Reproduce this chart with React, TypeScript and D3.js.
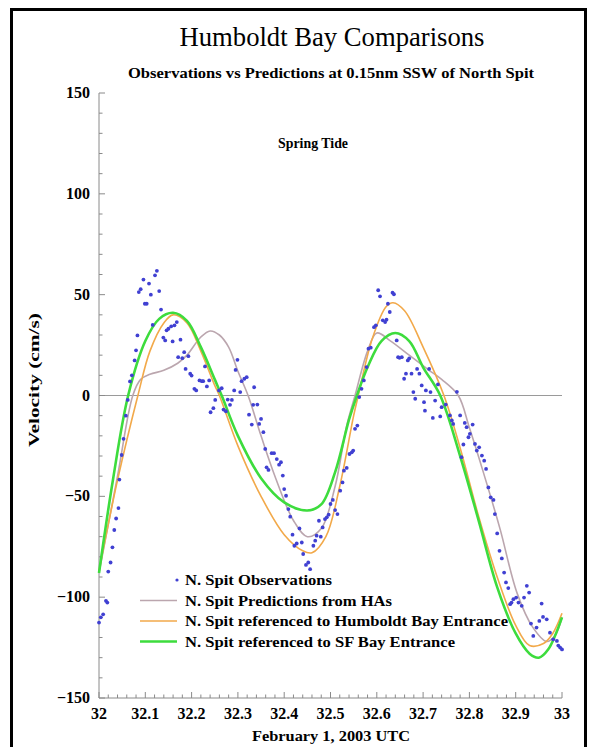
import React from "react";
import * as d3 from "d3";

const titleText = "Humboldt Bay Comparisons";
const subtitleText = "Observations vs Predictions at 0.15nm SSW of North Spit";
const annotationText = "Spring Tide";
const xLabelText = "February 1, 2003 UTC";
const yLabelText = "Velocity (cm/s)";

const xTicks = [32, 32.1, 32.2, 32.3, 32.4, 32.5, 32.6, 32.7, 32.8, 32.9, 33];
const xTickLabels = ["32", "32.1", "32.2", "32.3", "32.4", "32.5", "32.6", "32.7", "32.8", "32.9", "33"];
const yTicks = [-150, -100, -50, 0, 50, 100, 150];
const yTickLabels = ["\u2212150", "\u2212100", "\u221250", "0", "50", "100", "150"];

const legendLabels = [
  "N. Spit Observations",
  "N. Spit Predictions from HAs",
  "N. Spit referenced to Humboldt Bay Entrance",
  "N. Spit referenced to SF Bay Entrance",
];

// Observations
const obsT = [
  32.000, 32.004, 32.009, 32.015, 32.018,
  32.020, 32.025, 32.029, 32.033, 32.037, 32.042, 32.044, 32.049, 32.053, 32.058,
  32.062, 32.067, 32.071, 32.077, 32.080, 32.083, 32.086, 32.090, 32.096, 32.099,
  32.103, 32.108, 32.112, 32.116, 32.121, 32.125, 32.130, 32.134, 32.139, 32.143,
  32.146, 32.150, 32.156, 32.159, 32.163, 32.168, 32.171, 32.176, 32.180, 32.184,
  32.187, 32.193, 32.197, 32.200, 32.206, 32.210, 32.217, 32.222, 32.225, 32.229,
  32.233, 32.238, 32.241, 32.247, 32.251, 32.259, 32.265, 32.269, 32.274, 32.278,
  32.283, 32.287, 32.292, 32.295, 32.299, 32.305, 32.308, 32.314, 32.319, 32.324,
  32.330, 32.333, 32.335,
  32.342, 32.346, 32.350, 32.355, 32.359, 32.362, 32.366, 32.373, 32.378, 32.384,
  32.389, 32.393, 32.397, 32.400, 32.404, 32.409, 32.413, 32.418, 32.422, 32.427,
  32.433, 32.438, 32.441, 32.447, 32.452, 32.456, 32.463, 32.467, 32.470, 32.475,
  32.479, 32.483, 32.488, 32.492, 32.496, 32.500, 32.505, 32.510, 32.515, 32.521,
  32.526, 32.529, 32.535, 32.541, 32.546, 32.549, 32.553, 32.558, 32.562, 32.567,
  32.572, 32.578, 32.582, 32.587, 32.594, 32.598, 32.603, 32.607, 32.613, 32.618,
  32.621, 32.624, 32.628, 32.634, 32.637, 32.643, 32.646, 32.649,
  32.654, 32.659, 32.663, 32.667, 32.670, 32.675, 32.679, 32.683, 32.687, 32.692,
  32.697, 32.702, 32.704, 32.706, 32.713, 32.716, 32.721, 32.726, 32.732, 32.737,
  32.740, 32.749, 32.758, 32.762, 32.765, 32.773, 32.780, 32.783, 32.787, 32.790,
  32.794, 32.798, 32.801, 32.807, 32.812, 32.816, 32.821, 32.827, 32.832, 32.836,
  32.841, 32.846, 32.852, 32.855, 32.860, 32.865, 32.870, 32.875, 32.879, 32.884,
  32.888, 32.891, 32.895, 32.901, 32.906, 32.913, 32.918, 32.924, 32.929, 32.933,
  32.938, 32.945, 32.951, 32.956, 32.959, 32.967, 32.974, 32.981, 32.989, 32.992,
  32.996, 33.000,
];
const obsV = [
  -112.6, -110, -108.5, -101.8, -102.7,
  -87.3, -82.8, -75.3, -66.7, -61, -55.8, -41.7, -29.5, -21.5, -10,
  -2.2, 7, 10, 17.4, 22.4, 29.8, 51.3, 52.7, 57.5, 45.5,
  45.5, 55.5, 50, 35, 59.6, 61.8, 51.8, 42.6, 28.7, 27.3,
  32.3, 33.1, 34.3, 26.8, 34.8, 36.4, 19, 27.7, 18.5, 21.5,
  13.2, 19.5, 10.8, 9.9, 3.3, 2.5, 7.5, 7.1, 7.1, 14.4,
  4.5, 7.5, -8.3, -6.3, -2.2, 2.5, 3.6, -7, -7.8, -2,
  -4.6, -2.2, 2.5, 12.7, 17.7, 1.7, 7.1, 8.3, 9.1, -9.5,
  -14.4, -4.6, 4.1,
  -4.5, -14.1, -11.6, -18.2, -26.5, -35.6, -36.9, -28.6, -28.6, -31.5,
  -34.3, -33.1, -39.7, -46.4, -49.7, -56.3, -60.1, -69, -74.5, -73.4,
  -65.9, -72.9, -78.6, -84, -82.8, -86.1, -74.5, -72, -69.5, -62.1,
  -70, -65.4, -61.3, -60.4, -59.1, -53.8, -51.8, -56.8, -58.8, -47.2,
  -43.1, -37.3, -35.9, -29, -28.2, -27.3, -16.5, -14.9, -0.8, 3.3,
  7.5, 14.1, 23.2, 23.7, 33.9, 34.8, 52.2, 49.2, 37.3, 36.4,
  37.6, 45.5, 41.4, 51, 50.2, 27.3, 19, 18.7,
  19, 8.3, 10.8, 17.4, 18.4, 10.8, 1.7, -1.6, 13.2, 10.8,
  5, -3.3, -7.5, 2.5, 13.2, 1.7, -11.1, -2.5, 5.5, -10.4,
  -5.8, -4.5, -9.9, -12.4, -14.1, 1.8, -9.9, -30.6, -24.3, -13.6,
  -15.7, -20.7, -19, -14.4, -24, -27.3, -25.7, -29.8, -32.3, -36.4,
  -45.6, -50.5, -51.8, -58.8, -68.4, -77, -80.8, -87.8, -92.7, -95.5,
  -103.5, -102.7, -101, -100.2, -102.7, -104.3, -100.2, -94.4, -97.7, -113.1,
  -119.2, -115.1, -111.8, -103.2, -109.8, -111, -117.6, -120.9, -121.7, -124,
  -125, -125.9,
];

// Predictions from harmonic analysis
const haT = [32.0, 32.04, 32.073, 32.09, 32.11, 32.14, 32.17, 32.19, 32.22, 32.24, 32.26, 32.28, 32.30, 32.322, 32.35, 32.38, 32.42, 32.45, 32.48, 32.51, 32.535, 32.553, 32.58, 32.60, 32.63, 32.67, 32.71, 32.74, 32.776, 32.80, 32.83, 32.866, 32.903, 32.937, 32.967, 32.985, 33.0];
const haV = [-88, -40, 0, 8, 10.5, 12.5, 16, 20, 29, 32, 30, 24, 12, 0, -20, -40, -62, -70, -66, -45, -15, 0, 22, 31, 27, 20, 13, 8, 0, -16, -38, -66, -98, -115, -122, -119, -110];

// Referenced to Humboldt Bay Entrance
const hbT = [32.0, 32.04, 32.084, 32.11, 32.14, 32.16, 32.19, 32.22, 32.25, 32.26, 32.30, 32.35, 32.40, 32.44, 32.46, 32.49, 32.52, 32.55, 32.56, 32.59, 32.62, 32.635, 32.66, 32.70, 32.745, 32.78, 32.82, 32.86, 32.90, 32.93, 32.96, 32.98, 33.0];
const hbV = [-87, -42, 0, 22, 36, 40, 36, 22, 5, 0, -25, -50, -69, -77, -78, -70, -45, -10, 0, 28, 44, 46, 42, 24, 0, -26, -60, -90, -114, -124, -123, -118, -108];

// Referenced to SF Bay Entrance
const sfT = [32.0, 32.03, 32.063, 32.10, 32.13, 32.16, 32.19, 32.22, 32.25, 32.265, 32.30, 32.35, 32.40, 32.45, 32.48, 32.51, 32.54, 32.557, 32.58, 32.61, 32.64, 32.67, 32.70, 32.737, 32.78, 32.82, 32.86, 32.90, 32.93, 32.95, 32.97, 33.0];
const sfV = [-88, -42, 0, 27, 38, 41, 37, 24, 8, 0, -20, -41, -53, -57, -54, -38, -12, 0, 14, 27, 31, 27, 14, 0, -30, -62, -95, -118, -128, -130, -126, -110];

const W = 589;
const H = 747;
const FONT = "'Liberation Serif', 'DejaVu Serif', serif";

const x = d3.scaleLinear().domain([32, 33]).range([99, 562]);
const y = d3.scaleLinear().domain([-150, 150]).range([698, 93]);

const line = d3
  .line<[number, number]>()
  .x((d) => x(d[0]))
  .y((d) => y(d[1]))
  .curve(d3.curveCatmullRom.alpha(0.5));

function zip(t: number[], v: number[]): [number, number][] {
  return t.map((tt, i) => [tt, v[i]]);
}

const GRAY = "#bba6ae";
const ORANGE = "#f2a94a";
const GREEN = "#3ddc3d";
const BLUE = "#4040d2";
const AXIS = "#8a8a8a";

export default function App() {
  const xMinor = d3.range(0, 51).map((i) => 32 + i * 0.02);
  const yMinor = d3.range(-150, 151, 10);
  const legendX = 185;
  const legendRows = [585, 605.5, 626, 646.5];
  const legendColors = [BLUE, GRAY, ORANGE, GREEN];
  const legendWidths = [0, 1.6, 1.6, 2.6];
  const legendLens = [147, 207, 323, 270];

  return (
    <svg
      width={W}
      height={H}
      style={{ position: "absolute", left: 0, top: 0, background: "#fff" }}
      fontFamily={FONT}
    >
      <rect x={0} y={0} width={W} height={H} fill="#fff" />
      {/* frame */}
      <rect x={11.5} y={9.5} width={574} height={800} fill="none" stroke="#000" strokeWidth={3} />

      {/* titles */}
      <text x={332} y={46} textAnchor="middle" fontSize={26.5} fill="#000" textLength={305} lengthAdjust="spacingAndGlyphs">
        {titleText}
      </text>
      <text x={331} y={78} textAnchor="middle" fontSize={15} fontWeight="bold" fill="#000" textLength={406} lengthAdjust="spacingAndGlyphs">
        {subtitleText}
      </text>
      <text x={313} y={148} textAnchor="middle" fontSize={15} fontWeight="bold" fill="#000" textLength={70} lengthAdjust="spacingAndGlyphs">
        {annotationText}
      </text>

      {/* zero line */}
      <line x1={x(32)} x2={x(33)} y1={y(0)} y2={y(0)} stroke="#9a9a9a" strokeWidth={1} />

      {/* axes */}
      <line x1={x(32)} x2={x(32)} y1={y(150)} y2={y(-150)} stroke={AXIS} strokeWidth={1} />
      <line x1={x(32)} x2={x(33)} y1={y(-150)} y2={y(-150)} stroke={AXIS} strokeWidth={1} />
      {yMinor.map((v) => {
        const major = v % 50 === 0;
        return (
          <line
            key={"ym" + v}
            x1={x(32)}
            x2={x(32) + (major ? 6 : 3.5)}
            y1={y(v)}
            y2={y(v)}
            stroke={AXIS}
            strokeWidth={1}
          />
        );
      })}
      {xMinor.map((t, i) => {
        const major = i % 5 === 0;
        return (
          <line
            key={"xm" + i}
            x1={x(t)}
            x2={x(t)}
            y1={y(-150)}
            y2={y(-150) - (major ? 6 : 3.5)}
            stroke={AXIS}
            strokeWidth={1}
          />
        );
      })}
      {yTicks.map((v, i) => (
        <text
          key={"yl" + v}
          x={90}
          y={y(v) + 5}
          textAnchor="end"
          fontSize={16}
          fontWeight="bold"
          fill="#000"
        >
          {yTickLabels[i]}
        </text>
      ))}
      {xTicks.map((t, i) => (
        <text
          key={"xl" + t}
          x={x(t)}
          y={719}
          textAnchor="middle"
          fontSize={16}
          fontWeight="bold"
          fill="#000"
        >
          {xTickLabels[i]}
        </text>
      ))}
      <text x={331} y={741} textAnchor="middle" fontSize={15.5} fontWeight="bold" fill="#000" textLength={158} lengthAdjust="spacingAndGlyphs">
        {xLabelText}
      </text>
      <text
        transform={`translate(39, 380) rotate(-90)`}
        textAnchor="middle"
        fontSize={15.5}
        fontWeight="bold"
        fill="#000"
        textLength={134}
        lengthAdjust="spacingAndGlyphs"
      >
        {yLabelText}
      </text>

      {/* curves */}
      <path d={line(zip(haT, haV)) || ""} fill="none" stroke={GRAY} strokeWidth={1.6} />
      <path d={line(zip(hbT, hbV)) || ""} fill="none" stroke={ORANGE} strokeWidth={1.6} />
      <path d={line(zip(sfT, sfV)) || ""} fill="none" stroke={GREEN} strokeWidth={2.6} />

      {/* observations */}
      {obsT.map((t, i) => (
        <circle key={"o" + i} cx={x(t)} cy={y(obsV[i])} r={1.9} fill={BLUE} />
      ))}

      {/* legend */}
      {legendLabels.map((lab, i) => (
        <g key={"lg" + i}>
          {i === 0 ? (
            <circle cx={177} cy={legendRows[i] - 5} r={1.6} fill={BLUE} />
          ) : (
            <line
              x1={140}
              x2={177}
              y1={legendRows[i] - 5}
              y2={legendRows[i] - 5}
              stroke={legendColors[i]}
              strokeWidth={legendWidths[i]}
            />
          )}
          <text
            x={legendX}
            y={legendRows[i]}
            fontSize={15.5}
            fontWeight="bold"
            fill="#000"
            textLength={legendLens[i]}
            lengthAdjust="spacingAndGlyphs"
          >
            {lab}
          </text>
        </g>
      ))}
    </svg>
  );
}
